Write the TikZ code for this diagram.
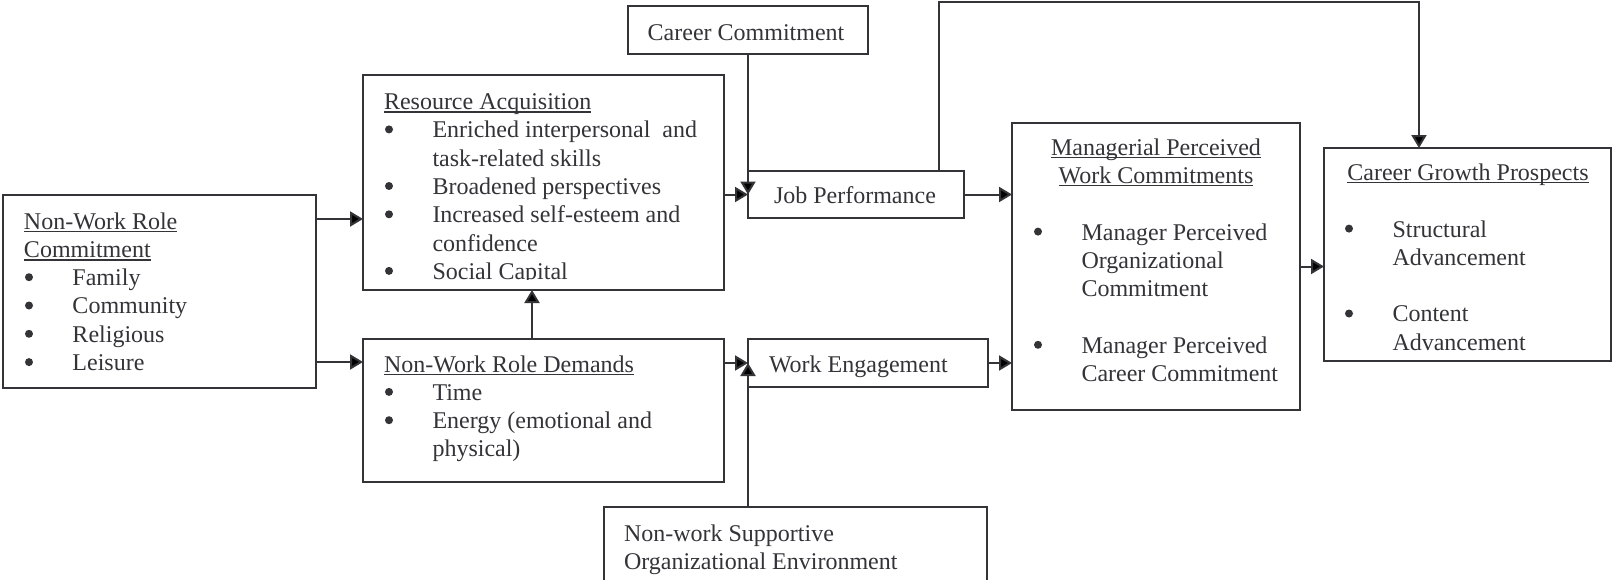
\documentclass[tikz,border=0pt]{standalone}
\usepackage{fontspec}
\setmainfont{Liberation Serif}
\usetikzlibrary{arrows.meta}
\definecolor{ink}{HTML}{333338}
% underline at a fixed depth, independent of descenders
\newcommand\ulbox[1]{{\setbox0\hbox{#1}\rlap{\rule[-1.7pt]{\wd0}{0.75pt}}\box0}}
% round list bullet
\newcommand\bdot{\tikz[baseline=0pt,x=1pt,y=1pt]\fill[ink] (2,4.2) circle[radius=2];}
% bulleted item and continuation indent
\newcommand\itm{\makebox[24.25pt][l]{\hspace*{0.5pt}\bdot}}
\newcommand\cnt{\hspace*{24.25pt}}
% box from corner coordinates (x1,y1)-(x2,y2)
\newcommand\mkbox[5]{\node[box, minimum width={0.5pt*(#4-#2)}, minimum height={0.5pt*(#5-#3)}] (#1) at ({(#2+#4)/2},{(#3+#5)/2}) {};}

\begin{document}
\begin{tikzpicture}[x=0.5pt,y=-0.5pt,
  box/.style={draw=ink, line width=1pt, inner sep=0pt, outer sep=0pt, rectangle},
  txt/.style={inner sep=0pt, outer sep=0pt, text=ink, font=\fontsize{12}{14.15}\selectfont, anchor=base west},
  ctr/.style={txt, anchor=base},
  arr/.style={draw=ink, line width=1pt, -{Triangle[length=6.5pt,width=7.5pt]}}]
\useasboundingbox (0,0) rectangle (1612,579);

% boxes
\mkbox{cc}{628}{6}{868}{54}
\mkbox{ra}{363}{75}{724}{290}
\mkbox{nwrc}{3}{195}{316}{388}
\mkbox{nwrd}{363}{339}{724}{482}
\mkbox{jp}{748}{171}{964}{218}
\mkbox{we}{748}{339}{988}{387}
\mkbox{nsoe}{604}{507}{987}{620}
\mkbox{mpwc}{1012}{123}{1300}{410}
\mkbox{cgp}{1324}{148}{1611}{361}

% texts
\node[txt] (nwrcT) at (24,229) {\begin{tabular}[t]{@{}l@{}}
  \ulbox{Non-Work Role}\\ \ulbox{Commitment}\\
  \itm Family\\ \itm Community\\ \itm Religious\\ \itm Leisure\end{tabular}};

\begin{scope}
\clip (363,75) rectangle (724,279);
\node[txt] (raT) at (384,109.5) {\begin{tabular}[t]{@{}l@{}}
  \ulbox{Resource Acquisition}\\
  \itm Enriched interpersonal\ \ and\\ \cnt task-related skills\\
  \itm Broadened perspectives\\
  \itm Increased self-esteem and\\ \cnt confidence\\
  \itm Social Capital\end{tabular}};
\end{scope}

\node[txt] (nwrdT) at (384,372) {\begin{tabular}[t]{@{}l@{}}
  \ulbox{Non-Work Role Demands}\\
  \itm Time\\ \itm Energy (emotional and\\ \cnt physical)\end{tabular}};

\node[ctr] (ccT) at (746,40) {Career Commitment};
\node[txt] (jpT) at (774,203) {Job Performance};
\node[txt] (weT) at (769,372) {Work Engagement};
\node[txt] (nsoeT) at (624,541) {\begin{tabular}[t]{@{}l@{}}
  Non-work Supportive\\ Organizational Environment\end{tabular}};

\node[ctr] (mpwcT1) at (1156,155) {\ulbox{Managerial Perceived}};
\node[ctr] (mpwcT2) at (1156,183) {\ulbox{Work Commitments}};
\node[txt] (mpwcL) at (1033,240) {\begin{tabular}[t]{@{}l@{}}
  \itm Manager Perceived\\ \cnt Organizational\\ \cnt Commitment\\ \\
  \itm Manager Perceived\\ \cnt Career Commitment\end{tabular}};

\node[ctr] (cgpT) at (1468,180) {\ulbox{Career Growth Prospects}};
\node[txt] (cgpL) at (1344,237) {\begin{tabular}[t]{@{}l@{}}
  \itm Structural\\ \cnt Advancement\\ \\
  \itm Content\\ \cnt Advancement\end{tabular}};

% connectors
\draw[arr] (nwrc.east |- 0,219) -- (ra.west |- 0,219);
\draw[arr] (nwrc.east |- 0,362) -- (nwrd.west |- 0,362);
\draw[arr] ([xshift=-5.75pt]nwrd.north) -- ([xshift=-5.75pt]ra.south);
\draw[arr] (ra.east |- jp.west) -- (jp.west);
\draw[arr] (cc.south -| jp.west) -- (jp.west);
\draw[arr] (jp.east) -- (mpwc.west |- jp.east);
\draw[arr] (nwrd.east |- we.west) -- (we.west);
\draw[arr] (nsoe.north -| we.west) -- (we.west);
\draw[arr] (we.east) -- (mpwc.west |- we.east);
\draw[arr] (mpwc.east) -- (cgp.west |- mpwc.east);
\draw[arr] ([xshift=-12.5pt]jp.north east) -- ([xshift=-12.5pt]jp.north east |- 0,1.5)
  -| ([xshift=-24.25pt]cgp.north);
\end{tikzpicture}
\end{document}
